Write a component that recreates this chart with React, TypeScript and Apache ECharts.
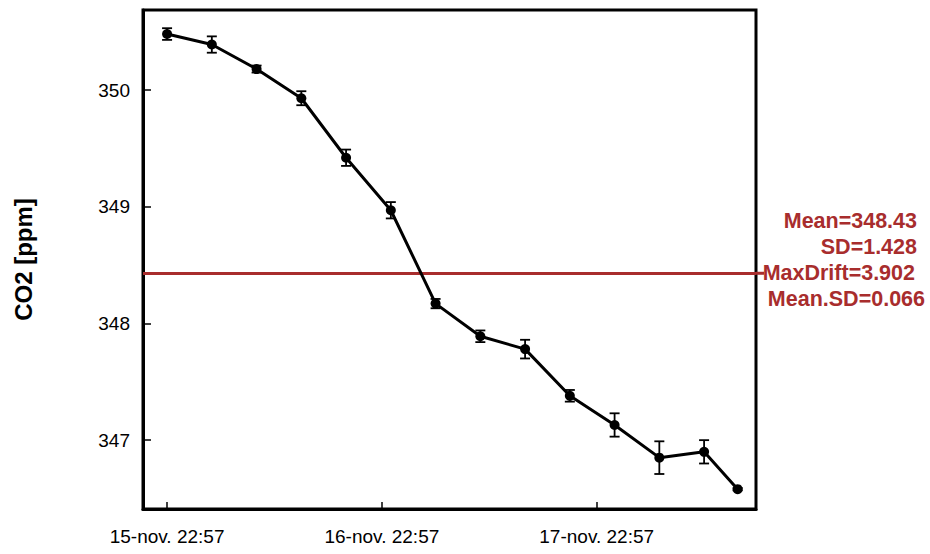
import React, { useEffect, useRef } from "react";
import * as echarts from "echarts";

// hours elapsed since 15-nov 22:57
const hours = [0, 5, 10, 15, 20, 25, 30, 35, 40, 45, 50, 55, 60, 63.75];
const co2 = [350.48, 350.39, 350.18, 349.93, 349.42, 348.97, 348.17, 347.89, 347.78, 347.38, 347.13, 346.85, 346.9, 346.58];
const sdErr = [0.05, 0.07, 0.03, 0.06, 0.07, 0.07, 0.04, 0.05, 0.08, 0.05, 0.1, 0.14, 0.1, 0.01];

const xTickHours = [0, 24, 48];
const xTickLabels = ["15-nov. 22:57", "16-nov. 22:57", "17-nov. 22:57"];
const yTicks = [347, 348, 349, 350];

const meanValue = 348.43;
const statLines = ["Mean=348.43", "SD=1.428", "MaxDrift=3.902", "Mean.SD=0.066"];

const RED = "#a82d2d";
const FONT = "'Liberation Sans', Arial, sans-serif";

export default function App() {
  const ref = useRef<HTMLDivElement>(null);
  useEffect(() => {
    document.body.style.margin = "0";
    if (!ref.current) return;
    const chart = echarts.init(ref.current, undefined, { renderer: "svg" });
    const lineData = hours.map((h, i) => [h, co2[i]]);
    const errData = hours.map((h, i) => [h, co2[i], sdErr[i]]);
    const option: any = {
      animation: false,
      grid: {
        left: 143,
        right: 174,
        top: 10,
        bottom: 45,
        show: true,
        borderColor: "#000",
        borderWidth: 3,
        backgroundColor: "transparent",
      },
      xAxis: {
        type: "value",
        min: -2.69,
        max: 65.8,
        axisLine: { show: true, onZero: false, lineStyle: { color: "#000", width: 3 } },
        axisTick: {
          show: true,
          inside: true,
          length: 7,
          customValues: xTickHours,
          lineStyle: { color: "#000", width: 1.5 },
        },
        axisLabel: {
          customValues: xTickHours,
          formatter: (v: number) => {
            const i = xTickHours.indexOf(v);
            return i >= 0 ? xTickLabels[i] : "";
          },
          color: "#000",
          fontSize: 19,
          fontFamily: FONT,
          margin: 18,
        },
        splitLine: { show: false },
      },
      yAxis: {
        type: "value",
        min: 346.41,
        max: 350.686,
        name: "CO2 [ppm]",
        nameLocation: "middle",
        nameRotate: 90,
        nameGap: 108,
        nameTextStyle: { color: "#000", fontSize: 24, fontWeight: "bold", fontFamily: FONT },
        axisLine: { show: true, onZero: false, lineStyle: { color: "#000", width: 3 } },
        axisTick: {
          show: true,
          inside: true,
          length: 8,
          customValues: yTicks,
          lineStyle: { color: "#000", width: 1.5 },
        },
        axisLabel: {
          customValues: yTicks,
          color: "#000",
          fontSize: 19,
          fontFamily: FONT,
          margin: 13,
        },
        splitLine: { show: false },
      },
      series: [
        {
          type: "line",
          data: lineData,
          symbol: "circle",
          symbolSize: 10,
          lineStyle: { color: "#000", width: 3 },
          itemStyle: { color: "#000" },
          z: 3,
          markLine: {
            silent: true,
            symbol: "none",
            label: { show: false },
            lineStyle: { color: RED, width: 3, type: "solid" },
            data: [{ yAxis: meanValue }],
            z: 1,
          },
        },
        {
          type: "custom",
          data: errData,
          z: 4,
          renderItem: (params: any, api: any) => {
            const x = api.value(0);
            const y = api.value(1);
            const e = api.value(2);
            const hi = api.coord([x, y + e]);
            const lo = api.coord([x, y - e]);
            const w = 5;
            const style = { stroke: "#000", lineWidth: 1.8 };
            return {
              type: "group",
              children: [
                { type: "line", shape: { x1: hi[0], y1: hi[1], x2: lo[0], y2: lo[1] }, style },
                { type: "line", shape: { x1: hi[0] - w, y1: hi[1], x2: hi[0] + w, y2: hi[1] }, style },
                { type: "line", shape: { x1: lo[0] - w, y1: lo[1], x2: lo[0] + w, y2: lo[1] }, style },
              ],
            };
          },
        },
      ],
    };
    chart.setOption(option);

    const yMean = chart.convertToPixel({ yAxisIndex: 0 }, meanValue) as number;
    const rightEdges = [917, 917, 915, 925];
    const textYs = [221, 247, 273, 299];
    chart.setOption({
      graphic: [
        {
          type: "line",
          shape: { x1: 756, y1: yMean, x2: 764, y2: yMean },
          style: { stroke: RED, lineWidth: 3 },
        },
        ...statLines.map((t, i) => ({
          type: "text",
          x: rightEdges[i],
          y: textYs[i],
          style: {
            text: t,
            fill: RED,
            font: `bold 21.5px ${FONT}`,
            textAlign: "right",
            textVerticalAlign: "middle",
          },
        })),
      ],
    });
    return () => chart.dispose();
  }, []);
  return <div ref={ref} style={{ width: 930, height: 554 }} />;
}
